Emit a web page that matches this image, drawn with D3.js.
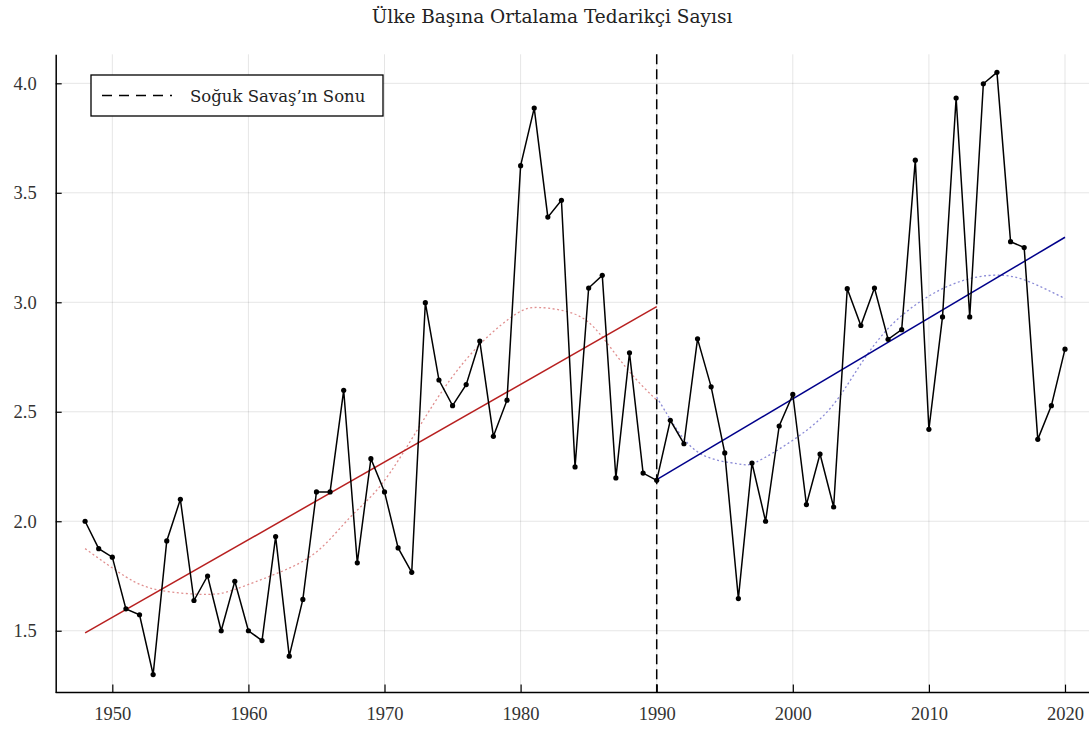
<!DOCTYPE html>
<html>
<head>
<meta charset="utf-8">
<script src="https://cdn.jsdelivr.net/npm/d3@7"></script>
<style>
  body { margin: 0; background: #fff; }
  svg { display: block; font-family: "Liberation Serif", "DejaVu Serif", serif; }
</style>
</head>
<body>
<div id="chart"></div>
<script>
// yearly values, 1948 - 2020
var years = d3.range(1948, 2021);
var values = [
  2.00, 1.875, 1.836, 1.60, 1.573, 1.30, 1.91, 2.10, 1.638, 1.75,
  1.50, 1.726, 1.50, 1.455, 1.93, 1.384, 1.643, 2.134, 2.134, 2.598,
  1.81, 2.286, 2.134, 1.878, 1.767, 2.998, 2.645, 2.528, 2.624, 2.823,
  2.388, 2.553, 3.624, 3.887, 3.389, 3.466, 2.248, 3.065, 3.123, 2.198,
  2.769, 2.220, 2.187, 2.461, 2.354, 2.833, 2.614, 2.312, 1.647, 2.266,
  2.00, 2.435, 2.579, 2.076, 2.307, 2.065, 3.062, 2.894, 3.065, 2.831,
  2.875, 3.649, 2.42, 2.933, 3.933, 2.933, 3.998, 4.05, 3.277, 3.25,
  2.374, 2.528, 2.786
];

// linear fits (end points)
var fitBeforeYears = [1948, 1990];
var fitBeforeValues = [1.49, 2.98];
var fitAfterYears = [1990, 2020];
var fitAfterValues = [2.19, 3.297];

// smooth (dotted) curves
var smoothBeforeYears = [1948, 1951, 1953.5, 1957, 1959.2, 1962.1, 1965, 1967.5, 1969.8, 1972.4, 1974.8, 1977.3, 1979.7, 1981.4, 1983.9, 1985.8, 1987.9, 1990];
var smoothBeforeValues = [1.875, 1.746, 1.685, 1.666, 1.693, 1.762, 1.86, 2.02, 2.17, 2.416, 2.644, 2.826, 2.948, 2.976, 2.948, 2.857, 2.69, 2.553];
var smoothAfterYears = [1990, 1991.2, 1993.2, 1995.9, 1997.3, 2000, 2002.6, 2004.6, 2007, 2010.1, 2013, 2015.4, 2017.4, 2020];
var smoothAfterValues = [2.567, 2.446, 2.309, 2.263, 2.27, 2.37, 2.505, 2.68, 2.88, 3.032, 3.108, 3.123, 3.093, 3.017];

var xTicks = [1950, 1960, 1970, 1980, 1990, 2000, 2010, 2020];
var yTicks = [1.5, 2.0, 2.5, 3.0, 3.5, 4.0];
var endYear = 1990;
var titleText = 'Ülke Başına Ortalama Tedarikçi Sayısı';
var legendText = 'Soğuk Savaş’ın Sonu';

var width = 1089, height = 729;
var tickFont = '"Liberation Serif", serif';
var labelFont = '"DejaVu Serif", serif';

var x = d3.scaleLinear().domain([1945.84, 2022.16]).range([55.7, 1094.4]);
var y = d3.scaleLinear().domain([1.2175, 4.1325]).range([692.6, 54.3]);

var svg = d3.select('#chart').append('svg')
    .attr('width', width)
    .attr('height', height);

// grid
svg.append('g').selectAll('line.vg')
    .data(xTicks).enter().append('line')
    .attr('x1', function(d) { return x(d); })
    .attr('x2', function(d) { return x(d); })
    .attr('y1', y.range()[1])
    .attr('y2', y.range()[0])
    .attr('stroke', '#000').attr('stroke-opacity', 0.1);

svg.append('g').selectAll('line.hg')
    .data(yTicks).enter().append('line')
    .attr('x1', x.range()[0])
    .attr('x2', width)
    .attr('y1', function(d) { return y(d); })
    .attr('y2', function(d) { return y(d); })
    .attr('stroke', '#000').attr('stroke-opacity', 0.1);

// axes
var xAxis = svg.append('g')
    .attr('transform', 'translate(0,' + y.range()[0] + ')')
    .call(d3.axisBottom(x).tickValues(xTicks).tickFormat(d3.format('d')).tickSizeInner(-8).tickSizeOuter(0).tickPadding(14));
var yAxis = svg.append('g')
    .attr('transform', 'translate(' + x.range()[0] + ',0)')
    .call(d3.axisLeft(y).tickValues(yTicks).tickFormat(d3.format('.1f')).tickSizeInner(-6).tickSizeOuter(0).tickPadding(19));

[xAxis, yAxis].forEach(function(a) {
  a.attr('font-family', tickFont).attr('font-size', 18.5);
  a.select('.domain').attr('stroke', '#000').attr('stroke-width', 1.5);
  a.selectAll('.tick line').attr('stroke', '#000').attr('stroke-width', 1.2);
  a.selectAll('.tick text').attr('fill', '#333');
});
xAxis.select('.domain').attr('d', 'M' + x.range()[0] + ',0H' + width);

// vertical line at end of cold war
svg.append('line')
    .attr('x1', x(endYear)).attr('x2', x(endYear))
    .attr('y1', y.range()[1]).attr('y2', y.range()[0])
    .attr('stroke', '#000').attr('stroke-width', 1.5)
    .attr('stroke-dasharray', '10,5');

var line = d3.line()
    .x(function(d) { return x(d[0]); })
    .y(function(d) { return y(d[1]); });
var smooth = d3.line()
    .x(function(d) { return x(d[0]); })
    .y(function(d) { return y(d[1]); })
    .curve(d3.curveNatural);

svg.append('path')
    .attr('d', smooth(d3.zip(smoothBeforeYears, smoothBeforeValues)))
    .attr('fill', 'none').attr('stroke', '#e08f8f').attr('stroke-width', 1.3)
    .attr('stroke-dasharray', '2,2.5');
svg.append('path')
    .attr('d', smooth(d3.zip(smoothAfterYears, smoothAfterValues)))
    .attr('fill', 'none').attr('stroke', '#8a8ad6').attr('stroke-width', 1.3)
    .attr('stroke-dasharray', '2,2.5');

svg.append('path')
    .attr('d', line(d3.zip(fitBeforeYears, fitBeforeValues)))
    .attr('fill', 'none').attr('stroke', '#b82020').attr('stroke-width', 1.5);
svg.append('path')
    .attr('d', line(d3.zip(fitAfterYears, fitAfterValues)))
    .attr('fill', 'none').attr('stroke', '#00008b').attr('stroke-width', 1.5);

var pts = d3.zip(years, values);
svg.append('path')
    .attr('d', line(pts))
    .attr('fill', 'none').attr('stroke', '#000').attr('stroke-width', 1.5);
svg.append('g').selectAll('circle')
    .data(pts).enter().append('circle')
    .attr('cx', function(d) { return x(d[0]); })
    .attr('cy', function(d) { return y(d[1]); })
    .attr('r', 2.6)
    .attr('fill', '#000');

// title
svg.append('text')
    .attr('x', 552).attr('y', 23)
    .attr('text-anchor', 'middle')
    .attr('fill', '#222')
    .attr('font-family', labelFont)
    .attr('font-size', 18.5)
    .text(titleText);

// legend
var lg = svg.append('g');
lg.append('rect')
    .attr('x', 91).attr('y', 75).attr('width', 292).attr('height', 41)
    .attr('fill', '#fff').attr('stroke', '#000').attr('stroke-width', 1.3);
lg.append('line')
    .attr('x1', 102).attr('x2', 172).attr('y1', 95.5).attr('y2', 95.5)
    .attr('stroke', '#000').attr('stroke-width', 1.5)
    .attr('stroke-dasharray', '10,7');
lg.append('text')
    .attr('x', 190).attr('y', 101.5)
    .attr('fill', '#222')
    .attr('font-family', labelFont)
    .attr('font-size', 16.5)
    .text(legendText);
</script>
</body>
</html>
